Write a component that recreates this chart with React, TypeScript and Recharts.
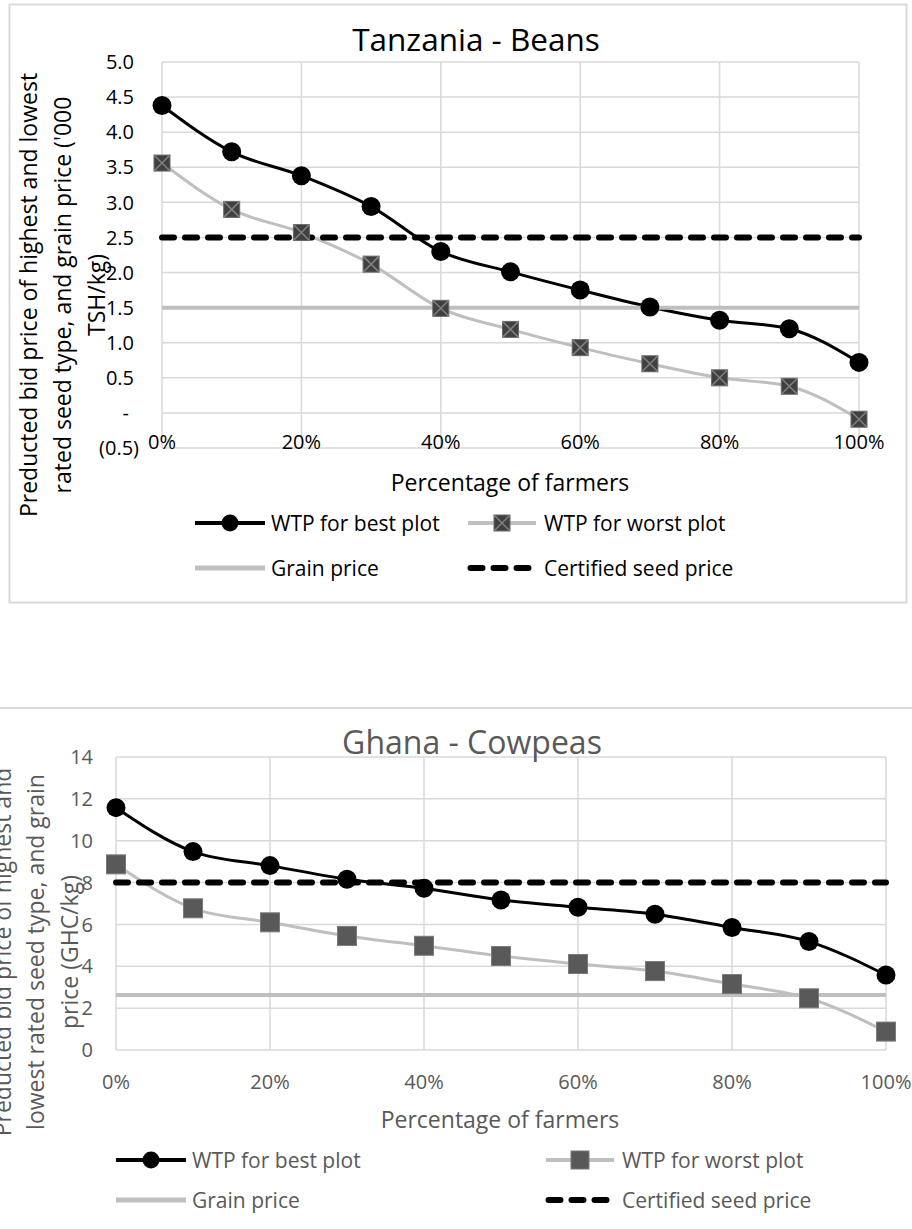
import { LineChart, Line, XAxis, YAxis, CartesianGrid, ReferenceLine } from 'recharts'

// categories: share of farmers, %
const pctCategories = [0, 10, 20, 30, 40, 50, 60, 70, 80, 90, 100]
const pctTicks = [0, 20, 40, 60, 80, 100]

// Tanzania - Beans ('000 TSH/kg)
const tzBest = [4.38, 3.72, 3.38, 2.94, 2.3, 2.01, 1.75, 1.51, 1.32, 1.2, 0.72]
const tzWorst = [3.56, 2.9, 2.57, 2.12, 1.49, 1.19, 0.93, 0.7, 0.5, 0.38, -0.09]
const tzGrainPrice = 1.5
const tzSeedPrice = 2.5
const tzYTicks = [-0.5, 0, 0.5, 1, 1.5, 2, 2.5, 3, 3.5, 4, 4.5, 5]

// Ghana - Cowpeas (GHC/kg)
const ghBest = [11.58, 9.48, 8.81, 8.16, 7.73, 7.17, 6.82, 6.49, 5.85, 5.18, 3.58]
const ghWorst = [8.87, 6.77, 6.1, 5.45, 4.98, 4.49, 4.11, 3.77, 3.15, 2.47, 0.88]
const ghGrainPrice = 2.63
const ghSeedPrice = 8
const ghYTicks = [0, 2, 4, 6, 8, 10, 12, 14]

const legendLabels = ['WTP for best plot', 'WTP for worst plot', 'Grain price', 'Certified seed price']

const FONT = '"Open Sans", sans-serif'
const GRID = '#D9D9D9'
const LIGHT = '#BFBFBF'
const GREY_TEXT = '#595959'

const tzRows = pctCategories.map((p, i) => ({ pct: p, best: tzBest[i], worst: tzWorst[i] }))
const ghRows = pctCategories.map((p, i) => ({ pct: p, best: ghBest[i], worst: ghWorst[i] }))

// Excel accounting format: 0 -> "-", negatives in brackets
function fmtAccounting(v: number) {
  if (v === 0) return '-'
  if (v < 0) return `(${Math.abs(v).toFixed(1)})`
  return v.toFixed(1)
}

function XSquare({ cx, cy, size = 16 }: { cx: number; cy: number; size?: number }) {
  const h = size / 2
  return (
    <g>
      <rect x={cx - h} y={cy - h} width={size} height={size} fill="#404040" stroke="#6a6a6a" strokeWidth={1} />
      <path
        d={`M${cx - h} ${cy - h}L${cx + h} ${cy + h}M${cx + h} ${cy - h}L${cx - h} ${cy + h}`}
        stroke="#808080"
        strokeWidth={1.5}
      />
    </g>
  )
}

function PlainSquare({ cx, cy, size = 19 }: { cx: number; cy: number; size?: number }) {
  const h = size / 2
  return <rect x={cx - h} y={cy - h} width={size} height={size} fill="#595959" stroke="#7a7a7a" strokeWidth={1} />
}

function tzYTick(props: any) {
  const { x, y, payload } = props
  const v = payload.value as number
  const end = v < 0 ? x - 23 : v === 0 ? x - 33 : x - 28
  return (
    <text x={end} y={y} dy="0.36em" textAnchor="end" fontFamily={FONT} fontSize={20} fill="#000">
      {fmtAccounting(v)}
    </text>
  )
}

function tzXTick(props: any) {
  const { x, y, payload } = props
  return (
    <text x={x} y={y + 1} textAnchor="middle" fontFamily={FONT} fontSize={20} fill="#000">
      {`${payload.value}%`}
    </text>
  )
}

function ghYTick(props: any) {
  const { x, y, payload } = props
  return (
    <text x={x - 23} y={y} dy="0.36em" textAnchor="end" fontFamily={FONT} fontSize={20} fill={GREY_TEXT}>
      {payload.value}
    </text>
  )
}

function ghXTick(props: any) {
  const { x, y, payload } = props
  return (
    <text x={x} y={y + 39} textAnchor="middle" fontFamily={FONT} fontSize={20} fill={GREY_TEXT}>
      {`${payload.value}%`}
    </text>
  )
}

function YTitle({ lines, xs, cy, color }: { lines: string[]; xs: number[]; cy: number; color: string }) {
  return (
    <g>
      {lines.map((l, i) => (
        <text
          key={l}
          x={xs[i]}
          y={cy}
          transform={`rotate(-90 ${xs[i]} ${cy})`}
          textAnchor="middle"
          dy="0.3em"
          fontFamily={FONT}
          fontSize={23}
          fill={color}
        >
          {l}
        </text>
      ))}
    </g>
  )
}

function LegendBlock({
  x1, x2, y1, y2, color, square,
}: { x1: number; x2: number; y1: number; y2: number; color: string; square: 'x' | 'plain' }) {
  const txt = { fontFamily: FONT, fontSize: 21, fill: color }
  return (
    <g>
      <line x1={x1} x2={x1 + 70} y1={y1} y2={y1} stroke="#000" strokeWidth={4} />
      <circle cx={x1 + 35} cy={y1} r={8.5} fill="#000" />
      <text x={x1 + 76} y={y1} dy="0.36em" {...txt}>{legendLabels[0]}</text>

      <line x1={x2} x2={x2 + 68} y1={y1} y2={y1} stroke={LIGHT} strokeWidth={4} />
      {square === 'x' ? <XSquare cx={x2 + 34} cy={y1} size={16} /> : <PlainSquare cx={x2 + 34} cy={y1} size={18} />}
      <text x={x2 + 76} y={y1} dy="0.36em" {...txt}>{legendLabels[1]}</text>

      <line x1={x1} x2={x1 + 70} y1={y2} y2={y2} stroke={LIGHT} strokeWidth={5} />
      <text x={x1 + 76} y={y2} dy="0.36em" {...txt}>{legendLabels[2]}</text>

      <line x1={x2 + 2.5} x2={x2 + 66} y1={y2} y2={y2} stroke="#000" strokeWidth={6} strokeDasharray="12 11" strokeLinecap="round" />
      <text x={x2 + 76} y={y2} dy="0.36em" {...txt}>{legendLabels[3]}</text>
    </g>
  )
}

export default function App() {
  return (
    <div style={{ position: 'absolute', left: 0, top: 0, width: 912, height: 1229, background: '#fff', overflow: 'hidden' }}>
      {/* Tanzania */}
      <div style={{ position: 'absolute', left: 0, top: 0 }}>
        <LineChart width={912} height={610} data={tzRows} margin={{ top: 62, right: 53, bottom: 0, left: 0 }}>
          <CartesianGrid stroke={GRID} strokeWidth={1.5} />
          <XAxis
            dataKey="pct"
            type="number"
            domain={[0, 100]}
            ticks={pctTicks}
            height={162}
            axisLine={false}
            tickLine={false}
            tickSize={0}
            tickMargin={0}
            tick={tzXTick}
            interval={0}
          />
          <YAxis
            type="number"
            domain={[-0.5, 5]}
            ticks={tzYTicks}
            width={162}
            axisLine={false}
            tickLine={false}
            tickSize={0}
            tickMargin={0}
            tick={tzYTick}
            interval={0}
          />
          <Line
            dataKey="worst"
            type="monotone"
            stroke={LIGHT}
            strokeWidth={3}
            isAnimationActive={false}
            dot={(p: any) => <XSquare key={`tw${p.index}`} cx={p.cx} cy={p.cy} size={16} />}
            activeDot={false}
          />
          <Line
            dataKey="best"
            type="monotone"
            stroke="#000"
            strokeWidth={3}
            isAnimationActive={false}
            dot={{ r: 9.5, fill: '#000', stroke: '#000', strokeWidth: 0 }}
            activeDot={false}
          />
          <ReferenceLine y={tzGrainPrice} stroke={LIGHT} strokeWidth={4} />
          <ReferenceLine y={tzSeedPrice} stroke="#000" strokeWidth={6} strokeDasharray="12 11" strokeLinecap="round" />
        </LineChart>
      </div>

      {/* Ghana */}
      <div style={{ position: 'absolute', left: 0, top: 640 }}>
        <LineChart width={912} height={589} data={ghRows} margin={{ top: 117, right: 26, bottom: 0, left: 0 }}>
          <CartesianGrid stroke={GRID} strokeWidth={1.5} />
          <XAxis
            dataKey="pct"
            type="number"
            domain={[0, 100]}
            ticks={pctTicks}
            height={179}
            axisLine={false}
            tickLine={false}
            tickSize={0}
            tickMargin={0}
            tick={ghXTick}
            interval={0}
          />
          <YAxis
            type="number"
            domain={[0, 14]}
            ticks={ghYTicks}
            width={116}
            axisLine={false}
            tickLine={false}
            tickSize={0}
            tickMargin={0}
            tick={ghYTick}
            interval={0}
          />
          <Line
            dataKey="worst"
            type="monotone"
            stroke={LIGHT}
            strokeWidth={3}
            isAnimationActive={false}
            dot={(p: any) => <PlainSquare key={`gw${p.index}`} cx={p.cx} cy={p.cy} size={19} />}
            activeDot={false}
          />
          <Line
            dataKey="best"
            type="monotone"
            stroke="#000"
            strokeWidth={3}
            isAnimationActive={false}
            dot={{ r: 9.5, fill: '#000', stroke: '#000', strokeWidth: 0 }}
            activeDot={false}
          />
          <ReferenceLine y={ghGrainPrice} stroke={LIGHT} strokeWidth={4} />
          <ReferenceLine y={ghSeedPrice} stroke="#000" strokeWidth={6} strokeDasharray="12 11" strokeLinecap="round" />
        </LineChart>
      </div>

      {/* titles, axis titles, legends */}
      <svg width={912} height={1229} style={{ position: 'absolute', left: 0, top: 0, pointerEvents: 'none' }}>
        <rect x={9.5} y={4.5} width={897} height={598} fill="none" stroke={GRID} strokeWidth={2} />
        <text x={476} y={51} textAnchor="middle" fontFamily={FONT} fontSize={31.5} fill="#000">Tanzania - Beans</text>
        <YTitle
          lines={['Preducted bid price of highest and lowest', "rated seed type, and grain price ('000", 'TSH/kg)']}
          xs={[30, 64, 98]}
          cy={295}
          color="#000"
        />
        <text x={510} y={491} textAnchor="middle" fontFamily={FONT} fontSize={23} fill="#000">Percentage of farmers</text>
        <LegendBlock x1={195} x2={468} y1={523} y2={568} color="#000" square="x" />

        <line x1={0} x2={912} y1={708} y2={708} stroke={GRID} strokeWidth={2} />
        <text x={472} y={754} textAnchor="middle" fontFamily={FONT} fontSize={32} fill={GREY_TEXT}>Ghana - Cowpeas</text>
        <YTitle
          lines={['Preducted bid price of highest and', 'lowest rated seed type, and grain', 'price (GHC/kg)']}
          xs={[4, 37, 71]}
          cy={952}
          color={GREY_TEXT}
        />
        <text x={500} y={1128} textAnchor="middle" fontFamily={FONT} fontSize={23} fill={GREY_TEXT}>Percentage of farmers</text>
        <LegendBlock x1={116} x2={546} y1={1160} y2={1200} color={GREY_TEXT} square="plain" />
      </svg>
    </div>
  )
}
